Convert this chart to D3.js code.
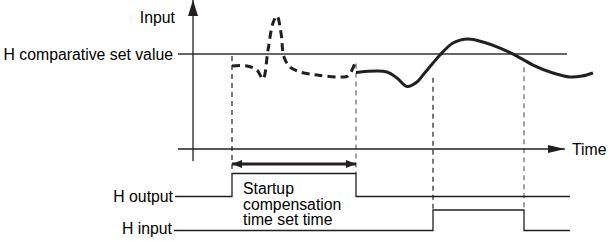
<!DOCTYPE html>
<html>
<head>
<meta charset="utf-8">
<script src="https://cdn.jsdelivr.net/npm/d3@7"></script>
<style>
  body { margin: 0; background: #fff; }
  svg { display: block; font-family: "Liberation Sans", Arial, sans-serif; }
</style>
</head>
<body>
<div id="chart-area"></div>
<script>
// input trace during startup compensation (dashed) [time, input]
const startupTrace = [
  [9.75, 87.4], [13.5, 87.4], [16, 83.2], [17.5, 73.7], [18.75, 104.2],
  [20, 132.6], [21, 140], [22, 122.1], [22.75, 96.8], [24.25, 86.3],
  [26.75, 81.1], [31, 77.9], [36.75, 75.8], [38.75, 76.8], [40.5, 90.5]
]
// input trace after startup compensation (solid)
const normalTrace = [
  [40.75, 80.5], [48.5, 81.1], [51, 74.7], [53.5, 65.8], [56, 70.5],
  [57.5, 77.9], [60, 90.5], [61.75, 98.9], [65, 111.6], [68.75, 115.8],
  [72.5, 112.6], [76.75, 106.3], [80.5, 98.9], [85, 88.4], [90, 80],
  [94.25, 75.8], [97.25, 76.8], [100, 80]
]
const setValue = 100
// timing signals [time, level]
const hOutput = [[-4.5, 0], [9.75, 1], [40.75, 0], [94.25, 0]]
const hInput = [[-4.75, 0], [60, 1], [82.75, 0], [94.25, 0]]
// event times for guide lines
const guides = [
  { t: 9.75, from: 98, to: "out", color: "#222" },
  { t: 40.75, from: 90, to: "out", color: "#666" },
  { t: 60, from: 75, to: "in", color: "#222" },
  { t: 82.75, from: 86, to: "in", color: "#666" }
]
const startupWindow = [9.75, 40.75]
const labelText = ["Startup", "compensation", "time set time"]

const W = 608, H = 241
const svg = d3.select("#chart-area").append("svg")
  .attr("width", W).attr("height", H)

const x = d3.scaleLinear().domain([0, 100]).range([193, 593])
const y = d3.scaleLinear().domain([0, 100]).range([149, 54])
// digital rows: low/high pixel levels
const rowOut = d3.scaleLinear().domain([0, 1]).range([196.5, 173.5])
const rowIn = d3.scaleLinear().domain([0, 1]).range([230.5, 210])

const ink = "#231f20"
const fontSize = "15.8px"

// markers
const defs = svg.append("defs")
function marker(id, w, h) {
  defs.append("marker")
    .attr("id", id)
    .attr("viewBox", `0 ${-h / 2} ${w} ${h}`)
    .attr("refX", w).attr("refY", 0)
    .attr("markerUnits", "userSpaceOnUse")
    .attr("markerWidth", w).attr("markerHeight", h)
    .attr("orient", "auto-start-reverse")
    .append("path")
    .attr("d", `M0,${-h / 2}L${w},0L0,${h / 2}Z`)
    .attr("fill", ink)
}
marker("arrY", 16, 10)
marker("arrX", 17, 8)
marker("arrD", 10, 8)

// guide lines (dashed, thin)
guides.forEach(g => {
  svg.append("line")
    .attr("x1", x(g.t)).attr("x2", x(g.t))
    .attr("y1", y(g.from))
    .attr("y2", g.to === "out" ? rowOut(1) : rowIn(1))
    .attr("stroke", g.color)
    .attr("stroke-width", 1.2)
    .attr("stroke-dasharray", "5,4")
})

// set value line
svg.append("line")
  .attr("x1", x(-3.75)).attr("x2", x(93.5))
  .attr("y1", y(setValue)).attr("y2", y(setValue))
  .attr("stroke", "#333").attr("stroke-width", 1.3)

// time axis
svg.append("line")
  .attr("x1", x(-3.75)).attr("x2", x(93))
  .attr("y1", y(0)).attr("y2", y(0))
  .attr("stroke", ink).attr("stroke-width", 1.3)
  .attr("marker-end", "url(#arrX)")

// input axis
svg.append("line")
  .attr("x1", x(0)).attr("x2", x(0))
  .attr("y1", y(-12.6)).attr("y2", 0)
  .attr("stroke", ink).attr("stroke-width", 1.3)
  .attr("marker-end", "url(#arrY)")

// traces
const line = d3.line()
  .x(d => x(d[0])).y(d => y(d[1]))
  .curve(d3.curveCatmullRom.alpha(0.5))

svg.append("path")
  .attr("d", line(startupTrace))
  .attr("fill", "none").attr("stroke", ink)
  .attr("stroke-width", 3)
  .attr("stroke-dasharray", "8,5")

svg.append("path")
  .attr("d", line(normalTrace))
  .attr("fill", "none").attr("stroke", ink)
  .attr("stroke-width", 3)

// startup window double arrow
svg.append("line")
  .attr("x1", x(startupWindow[0])).attr("x2", x(startupWindow[1]))
  .attr("y1", 164).attr("y2", 164)
  .attr("stroke", ink).attr("stroke-width", 3)
  .attr("marker-start", "url(#arrD)")
  .attr("marker-end", "url(#arrD)")

// digital signals
const step = (row) => d3.line()
  .x(d => x(d[0])).y(d => row(d[1]))
  .curve(d3.curveStepAfter)

svg.append("path")
  .attr("d", step(rowOut)(hOutput))
  .attr("fill", "none").attr("stroke", ink).attr("stroke-width", 1.3)

svg.append("path")
  .attr("d", step(rowIn)(hInput))
  .attr("fill", "none").attr("stroke", ink).attr("stroke-width", 1.3)

// labels
function label(txt, px, py, anchor) {
  svg.append("text")
    .attr("x", px).attr("y", py)
    .attr("text-anchor", anchor)
    .attr("dominant-baseline", "central")
    .attr("font-size", fontSize)
    .attr("fill", "#000")
    .text(txt)
}
label("Input", 175, 17, "end")
label("H comparative set value", 173, y(setValue), "end")
label("Time", 572, y(0), "start")
label("H output", 173, rowOut(0), "end")
label("H input", 172, rowIn(0) - 2.5, "end")

const block = svg.append("text")
  .attr("x", x(startupWindow[0]) + 11)
  .attr("y", 194)
  .attr("font-size", fontSize)
  .attr("fill", "#000")
block.selectAll("tspan")
  .data(labelText)
  .join("tspan")
  .attr("x", x(startupWindow[0]) + 11)
  .attr("dy", (d, i) => i === 0 ? 0 : 15.7)
  .text(d => d)
</script>
</body>
</html>
